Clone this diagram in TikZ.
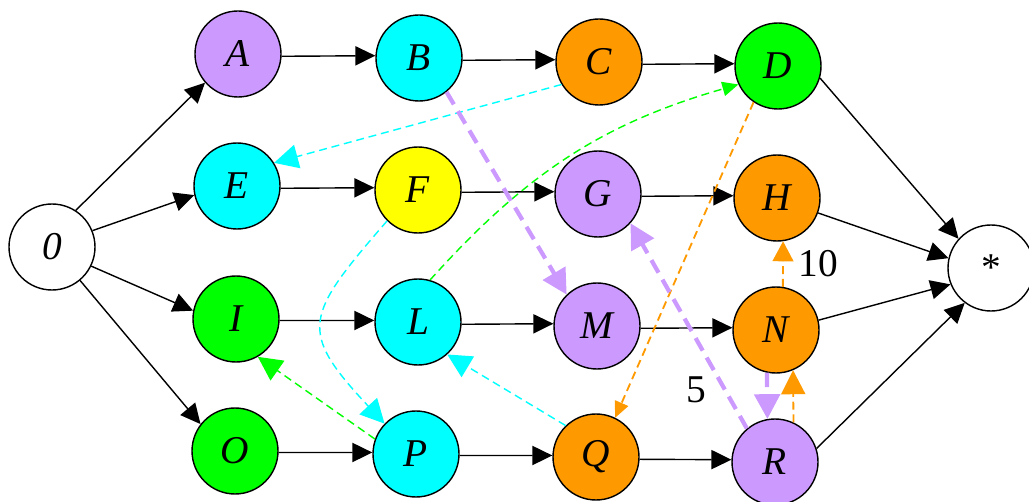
\documentclass[tikz,border=0pt]{standalone}
\usepackage{fontspec}
\setmainfont{Liberation Serif}
\usetikzlibrary{arrows.meta}

\definecolor{lilac}{HTML}{CC99FF}
\definecolor{aqua}{HTML}{00FFFF}
\definecolor{amber}{HTML}{FF9900}
\definecolor{leaf}{HTML}{00FF00}
\definecolor{lemon}{HTML}{FFFF00}

\begin{document}
\begin{tikzpicture}[
    font=\fontsize{28}{32}\selectfont,
    task/.style={
        circle, draw=black, line width=1pt,
        fill=white,
        minimum size=2.15cm, inner sep=0pt,
        font=\fontsize{28}{32}\selectfont\itshape
    },
    flow/.style={draw=black, line width=1pt, -{Triangle[length=0.5cm, width=0.48cm]}},
    lag/.style={line width=1pt, dash pattern=on 0.2cm off 0.12cm, -{Triangle[length=0.6cm, width=0.6cm]}},
    heavylag/.style={line width=3pt, dash pattern=on 0.36cm off 0.2cm, -{Triangle[length=0.62cm, width=0.64cm]}},
    smalltip/.style={-{Triangle[length=0.4cm, width=0.36cm]}},
    weight/.style={text=black, inner sep=1pt, font=\fontsize{28}{32}\selectfont}
]
\useasboundingbox (0,0) rectangle (25.725,12.525);
\clip (0,0) rectangle (25.725,12.525);

% ---------------------------------------------------------------------
% START AND END
% ---------------------------------------------------------------------
\node[task] (Start) at (1.30, 6.35) {0};
\node[task] (End) at (24.775, 5.825) {\upshape *};

% ---------------------------------------------------------------------
% ROW 1
% ---------------------------------------------------------------------
\node[task, fill=lilac] (A) at (5.95, 11.175) {A};
\node[task, fill=aqua] (B) at (10.475, 11.075) {B};
\node[task, fill=amber] (C) at (14.975, 10.975) {C};
\node[task, fill=leaf] (D) at (19.45, 10.875) {D};

% ---------------------------------------------------------------------
% ROW 2
% ---------------------------------------------------------------------
\node[task, fill=aqua] (E) at (5.925, 7.875) {E};
\node[task, fill=lemon] (F) at (10.45, 7.775) {F};
\node[task, fill=lilac] (G) at (14.95, 7.675) {G};
\node[task, fill=amber] (H) at (19.425, 7.575) {H};

% ---------------------------------------------------------------------
% ROW 3
% ---------------------------------------------------------------------
\node[task, fill=leaf] (I) at (5.90, 4.55) {I};
\node[task, fill=aqua] (L) at (10.45, 4.475) {L};
\node[task, fill=lilac] (M) at (14.925, 4.375) {M};
\node[task, fill=amber] (N) at (19.40, 4.275) {N};

% ---------------------------------------------------------------------
% ROW 4
% ---------------------------------------------------------------------
\node[task, fill=leaf] (O) at (5.875, 1.25) {O};
\node[task, fill=aqua] (P) at (10.40, 1.175) {P};
\node[task, fill=amber] (Q) at (14.90, 1.10) {Q};
\node[task, fill=lilac] (R) at (19.375, 0.975) {R};

% ---------------------------------------------------------------------
% MAIN FLOWS
% ---------------------------------------------------------------------
\draw[flow] (Start.57) -- (A.221);
\draw[flow] (Start.22) -- (E.192);
\draw[flow] (Start.334) -- (I.169);
\draw[flow] (Start.310) -- (O.142);

% rows are slightly skewed, keep the arrows level
\draw[flow] (A.-3) -- (B.177); \draw[flow] (B.-3) -- (C.177); \draw[flow] (C.-3) -- (D.177);
\draw[flow] (E.-3) -- (F.177); \draw[flow] (F.-3) -- (G.177); \draw[flow] (G.-3) -- (H.177);
\draw[flow] (I.-2) -- (L.178); \draw[flow] (L.-3) -- (M.177); \draw[flow] (M.-3) -- (N.177);
\draw[flow] (O.-2) -- (P.178); \draw[flow] (P.-2) -- (Q.178); \draw[flow] (Q.-3) -- (R.177);

\draw[flow] (D.344) -- (End.138);
\draw[flow] (H.340) -- (End.167);
\draw[flow] (N.13) -- (End.202);
\draw[flow] (R.18) -- (End.233);

% ---------------------------------------------------------------------
% DEPENDENCIES (dashed)
% ---------------------------------------------------------------------
\draw[lag, aqua] (C.211) -- (E.32);
\draw[lag, aqua] (F.225) to[out=229, in=133, looseness=1.6] (P.136);
\draw[lag, aqua] (Q.134) -- (L.312);

\draw[lag, leaf, smalltip] (L.74) to[out=48, in=196] (D.205);
\draw[lag, leaf] (P.160) -- (I.300);

\draw[lag, amber, line width=1.3pt, smalltip] (D.236) -- (Q.64);
\draw[lag, amber, line width=1.3pt, -{Triangle[length=0.5cm, width=0.52cm]}] (N.81) -- node[weight, right=0.33cm] {10} (H.278);
\draw[lag, amber, line width=1.3pt] (R.65) -- (N.293);

\draw[heavylag, lilac] (B.309) -- (M.134);
\draw[heavylag, lilac] (R.130) -- node[weight, pos=0.19, xshift=-0.7cm] {5} (G.318);
\draw[heavylag, lilac] (N.258) -- (R.100);

\end{tikzpicture}
\end{document}
